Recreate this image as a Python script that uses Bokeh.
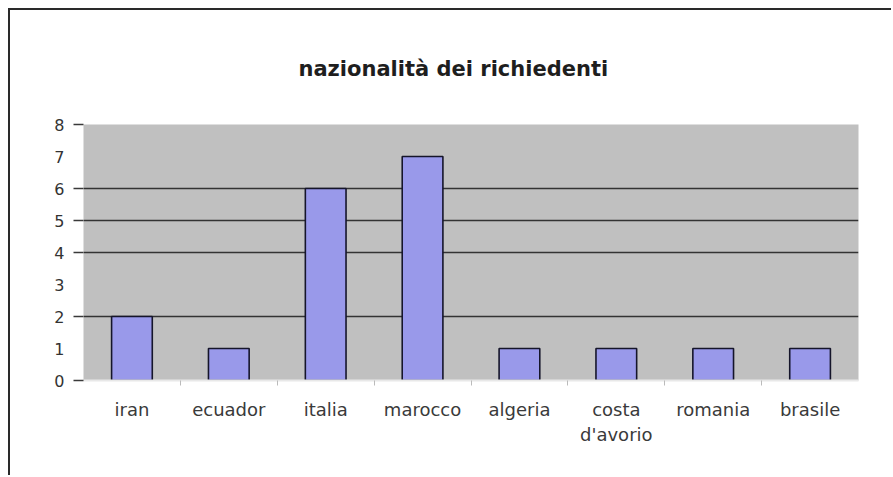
from bokeh.plotting import figure
from bokeh.models import FixedTicker, Range1d
from bokeh.embed import file_html
from bokeh.resources import INLINE

# data
countries = ["iran", "ecuador", "italia", "marocco", "algeria", "costa\nd'avorio", "romania", "brasile"]
richiedenti = [2, 1, 6, 7, 1, 1, 1, 1]
y_ticks = [0, 1, 2, 3, 4, 5, 6, 7, 8]
title_text = "nazionalità dei richiedenti"

n = len(countries)
centers = [i + 0.5 for i in range(n)]
bounds = list(range(1, n))
visible_rules = [0, 2, 4, 5, 6, 8]

p = figure(x_range=Range1d(0, n), y_range=(0, 8), width=883, height=467,
           output_backend="svg", toolbar_location=None,
           min_border_left=73, min_border_right=35, min_border_top=114, min_border_bottom=97,
           styles={"border-left": "2px solid #2a2a2a", "border-top": "2px solid #2a2a2a",
                   "margin-left": "8px", "margin-top": "8px"})

p.vbar(x=centers, top=richiedenti, width=0.42, fill_color="#9999EA",
       line_color="#15152a", line_width=1.6)

p.background_fill_color = "#C0C0C0"
p.border_fill_color = "white"
p.outline_line_color = None

# title
p.title.text = title_text
p.title.align = "left"
p.title.text_font = "DejaVu Sans"
p.title.text_font_size = "21px"
p.title.text_font_style = "bold"
p.title.text_color = "#1e1e1e"
p.title.offset = 215
p.title.standoff = 87

# y axis
p.yaxis.ticker = FixedTicker(ticks=y_ticks, minor_ticks=visible_rules)
p.yaxis.major_label_text_font = "DejaVu Sans"
p.yaxis.major_label_text_font_size = "16px"
p.yaxis.major_label_text_color = "#333333"
p.yaxis.axis_line_color = None
p.yaxis.major_tick_line_color = None
p.yaxis.major_tick_out = 10
p.yaxis.major_tick_in = 0
p.yaxis.minor_tick_out = 10
p.yaxis.minor_tick_in = 0
p.yaxis.minor_tick_line_color = "#3a3a3a"
p.yaxis.minor_tick_line_width = 1.5
p.yaxis.major_label_standoff = 9

# x axis: labels at centres, small ticks at category boundaries
p.xaxis.ticker = FixedTicker(ticks=centers, minor_ticks=bounds)
p.xaxis.major_label_overrides = {c: name for c, name in zip(centers, countries)}
p.xaxis.major_label_text_font = "DejaVu Sans"
p.xaxis.major_label_text_font_size = "18px"
p.xaxis.major_label_text_color = "#3a3a3a"
p.xaxis.axis_line_color = "#e8e8e8"
p.xaxis.axis_line_width = 2
p.xaxis.major_tick_line_color = None
p.xaxis.major_tick_out = 0
p.xaxis.major_tick_in = 0
p.xaxis.minor_tick_out = 5
p.xaxis.minor_tick_in = 0
p.xaxis.minor_tick_line_color = "#bbbbbb"
p.xaxis.major_label_standoff = 13

# grid
p.xgrid.grid_line_color = None
p.ygrid.ticker = FixedTicker(ticks=visible_rules[1:])
p.ygrid.grid_line_color = "#333333"
p.ygrid.grid_line_width = 1.5

open("out.html", "w").write(file_html(p, INLINE))
